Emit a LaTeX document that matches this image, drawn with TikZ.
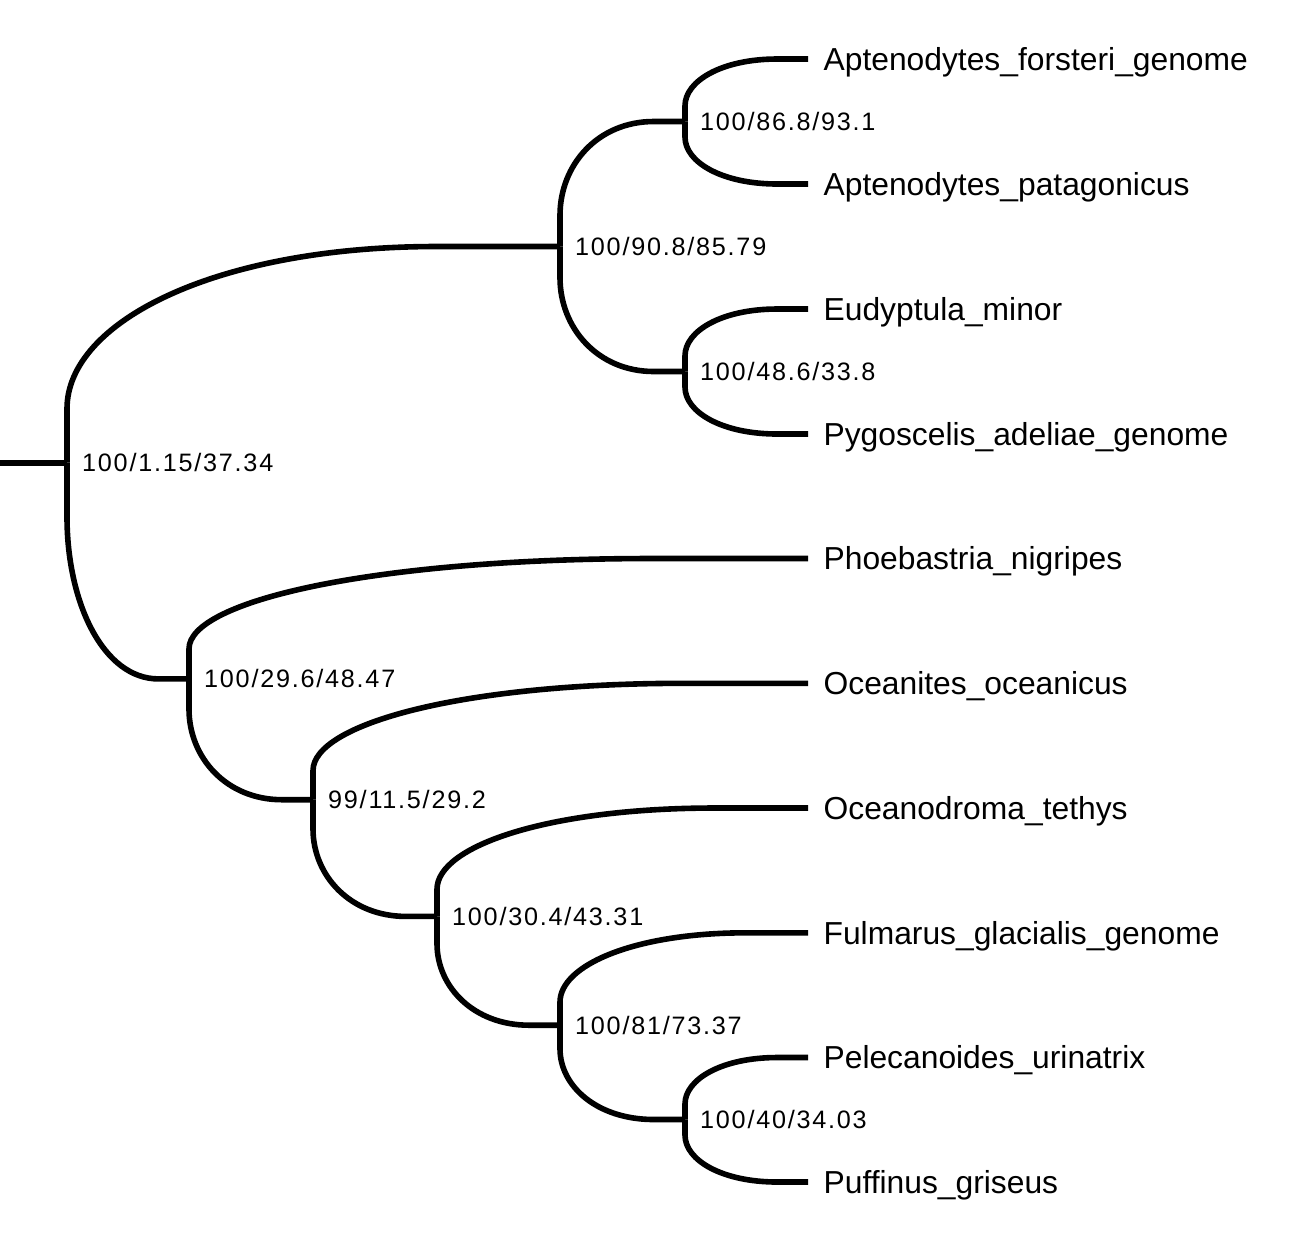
\documentclass[tikz,border=0pt]{standalone}
\usepackage{fontspec}
\usepackage{tikz}
\usetikzlibrary{calc,positioning}
\newfontfamily\tipfont{Liberation Sans}
\newfontfamily\supfont[LetterSpace=7]{Liberation Sans}
\tikzset{
  branch/.style={line width=2.8pt,line join=round},
  tip/.style={anchor=west,inner xsep=7.6pt,inner ysep=0pt,
    text height=11.4pt,text depth=0pt,
    font=\tipfont\fontsize{15.9}{18}\selectfont},
  support/.style={anchor=west,inner xsep=7.4pt,inner ysep=0pt,
    text height=8.95pt,text depth=0pt,
    font=\supfont\fontsize{12.6}{15}\selectfont}
}
% rounded elbow from a parent to a child
\newcommand{\clade}[2]{%
  \draw[branch] let \p1=(#1), \p2=(#2), \n1={\y2-\y1}, \n2={\x2-\x1} in
    (\p1) -- ({\x1},{\y1+0.25*(\n1)})
    .. controls ({\x1},{\y1+0.65*(\n1)}) and ({\x1+0.3*(\n2)},{\y2})
    .. ({\x1+0.75*(\n2)},{\y2}) -- (\p2);}

\begin{document}
\begin{tikzpicture}[x=0.5pt,y=-0.5pt]
  \useasboundingbox (0,0) rectangle (1305,1244);

  % internal nodes
  \coordinate (base)   at (0,462.7);
  \coordinate (root)   at (67,462.7);
  \coordinate (pengu)  at (560,246.5);
  \coordinate (aptn)   at (685,121.5);
  \coordinate (eudpyg) at (685,371.5);
  \coordinate (procel) at (189,678.9);
  \coordinate (ocnt)   at (313,799.7);
  \coordinate (ocdr)   at (437,916.4);
  \coordinate (fulm)   at (560,1025.2);
  \coordinate (pelpuf) at (685,1119.5);

  % leaves
  \node[tip] (apfo) at (808,59)     {Aptenodytes\_forsteri\_genome};
  \node[tip] (appa) at (808,184)    {Aptenodytes\_patagonicus};
  \node[tip] (eumi) at (808,309)    {Eudyptula\_minor};
  \node[tip] (pyad) at (808,434)    {Pygoscelis\_adeliae\_genome};
  \node[tip] (phni) at (808,558.5)  {Phoebastria\_nigripes};
  \node[tip] (ococ) at (808,683.3)  {Oceanites\_oceanicus};
  \node[tip] (octe) at (808,808)    {Oceanodroma\_tethys};
  \node[tip] (fugl) at (808,932.8)  {Fulmarus\_glacialis\_genome};
  \node[tip] (peur) at (808,1057.5) {Pelecanoides\_urinatrix};
  \node[tip] (pugr) at (808,1182)   {Puffinus\_griseus};

  % branches
  \draw[branch] (base) -- (root);
  \clade{root}{pengu}
  \clade{root}{procel}
  \clade{pengu}{aptn}
  \clade{pengu}{eudpyg}
  \clade{aptn}{apfo.west}
  \clade{aptn}{appa.west}
  \clade{eudpyg}{eumi.west}
  \clade{eudpyg}{pyad.west}
  \clade{procel}{phni.west}
  \clade{procel}{ocnt}
  \clade{ocnt}{ococ.west}
  \clade{ocnt}{ocdr}
  \clade{ocdr}{octe.west}
  \clade{ocdr}{fulm}
  \clade{fulm}{fugl.west}
  \clade{fulm}{pelpuf}
  \clade{pelpuf}{peur.west}
  \clade{pelpuf}{pugr.west}

  % support values
  \node[support] (s0) at (root)   {100/1.15/37.34};
  \node[support] (s1) at (pengu)  {100/90.8/85.79};
  \node[support] (s2) at (aptn)   {100/86.8/93.1};
  \node[support] (s3) at (eudpyg) {100/48.6/33.8};
  \node[support] (s4) at (procel) {100/29.6/48.47};
  \node[support] (s5) at (ocnt)   {99/11.5/29.2};
  \node[support] (s6) at (ocdr)   {100/30.4/43.31};
  \node[support] (s7) at (fulm)   {100/81/73.37};
  \node[support] (s8) at (pelpuf) {100/40/34.03};
\end{tikzpicture}
\end{document}
